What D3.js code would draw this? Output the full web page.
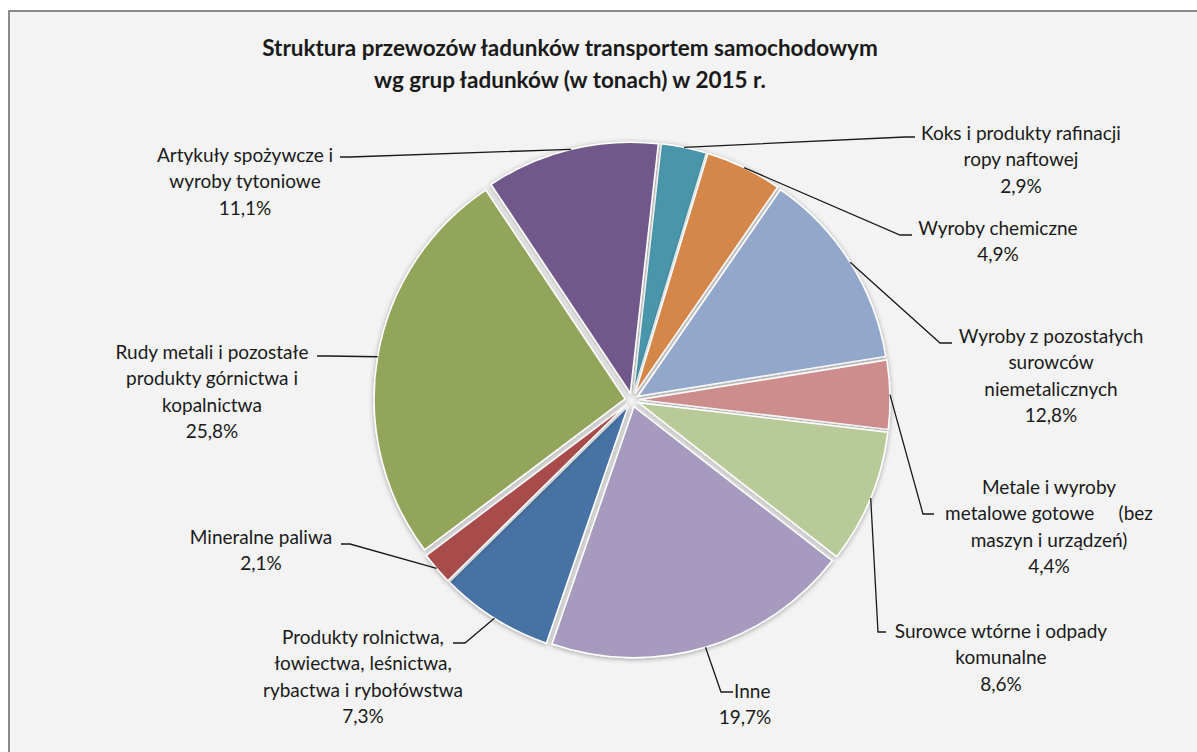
<!DOCTYPE html>
<html>
<head>
<meta charset="utf-8">
<script src="https://cdn.jsdelivr.net/npm/d3@7"></script>
<style>
	body { margin: 0; background: #fff; }
	text { font-family: Lato, "Open Sans", sans-serif; fill: #1a1a1a; }
</style>
</head>
<body>
<svg id="chart" width="1197" height="752"></svg>
<script>

const categories = [
	"Koks i produkty rafinacji ropy naftowej",
	"Wyroby chemiczne",
	"Wyroby z pozostałych surowców niemetalicznych",
	"Metale i wyroby metalowe gotowe (bez maszyn i urządzeń)",
	"Surowce wtórne i odpady komunalne",
	"Inne",
	"Produkty rolnictwa, łowiectwa, leśnictwa, rybactwa i rybołówstwa",
	"Mineralne paliwa",
	"Rudy metali i pozostałe produkty górnictwa i kopalnictwa",
	"Artykuły spożywcze i wyroby tytoniowe"
];

const values = [2.9, 4.9, 12.8, 4.4, 8.6, 19.7, 7.3, 2.1, 25.8, 11.1];

// label text as it is wrapped in the picture
const labelLines = [
	["Koks i produkty rafinacji", "ropy naftowej"],
	["Wyroby chemiczne"],
	["Wyroby z pozostałych", "surowców", "niemetalicznych"],
	["Metale i wyroby", "metalowe gotowe\u00a0\u00a0\u00a0\u00a0 (bez", "maszyn i urządzeń)"],
	["Surowce wtórne i odpady", "komunalne"],
	["\u00a0\u00a0\u00a0Inne"],
	["Produkty rolnictwa,", "łowiectwa, leśnictwa,", "rybactwa i rybołówstwa"],
	["Mineralne paliwa"],
	["Rudy metali i pozostałe", "produkty górnictwa i", "kopalnictwa"],
	["Artykuły spożywcze i", "wyroby tytoniowe"]
];

const colors = ["#4a96aa", "#d5864a", "#93a7ca", "#cd8d8c", "#b8ca97",
	"#a69bbe", "#4672a4", "#a84b4b", "#93a55a", "#71598a"];

const titleLines = [
	"Struktura przewozów ładunków transportem samochodowym",
	"wg grup ładunków (w tonach) w 2015 r."
];

// label placement: text centre x, first line y, leader elbow and end
const labelLayout = [
	{x: 1021, y: 133, elbow: [905, 137], end: [915, 137]},
	{x: 998, y: 228, elbow: [900, 235], end: [912, 235]},
	{x: 1051, y: 336, elbow: [940, 343], end: [952, 343]},
	{x: 1049, y: 487, elbow: [923, 514], end: [934, 514]},
	{x: 1001, y: 631, elbow: [878, 632], end: [886, 632]},
	{x: 745, y: 691, elbow: [721, 692], end: [733, 692]},
	{x: 363, y: 637, elbow: [465, 643], end: [453, 643]},
	{x: 261, y: 537, elbow: [350, 544], end: [341, 544]},
	{x: 212, y: 352, elbow: [328, 356], end: [317, 356]},
	{x: 245, y: 155, elbow: [350, 157], end: [340, 157]}
];

const cx = 632, cy = 400;
const radius = 251;
const explode = 7;
const lineHeight = 26.5;
const startAngle = 6.4 * Math.PI / 180;

const svg = d3.select("#chart");

const defs = svg.append("defs");
const shadow = defs.append("filter")
	.attr("id", "shadow")
	.attr("x", "-20%").attr("y", "-20%")
	.attr("width", "140%").attr("height", "140%");
shadow.append("feDropShadow")
	.attr("dx", 0)
	.attr("dy", 1)
	.attr("stdDeviation", 2.5)
	.attr("flood-color", "#000")
	.attr("flood-opacity", 0.35);

// chart area with its grey frame
svg.append("rect")
	.attr("x", 9)
	.attr("y", 11)
	.attr("width", 1197)
	.attr("height", 752)
	.attr("fill", "#f2f3f2")
	.attr("stroke", "#8a8a8a")
	.attr("stroke-width", 2);

svg.append("text")
	.attr("text-anchor", "middle")
	.attr("font-weight", "bold")
	.attr("font-size", 22.5)
	.selectAll("tspan")
	.data(titleLines)
	.join("tspan")
	.attr("x", 570)
	.attr("y", (d, i) => 48 + i * 32)
	.attr("dy", "0.35em")
	.text(d => d);

const pie = d3.pie()
	.sort(null)
	.value(d => d)
	.startAngle(startAngle)
	.endAngle(startAngle + 2 * Math.PI);

const arcs = pie(values);

const arc = d3.arc()
	.innerRadius(0)
	.outerRadius(radius);

const offset = d => {
	const a = (d.startAngle + d.endAngle) / 2;
	return [Math.sin(a) * explode, -Math.cos(a) * explode];
};

const g = svg.append("g")
	.attr("transform", `translate(${cx},${cy})`);

g.selectAll("path.slice")
	.data(arcs)
	.join("path")
	.attr("class", "slice")
	.attr("transform", d => `translate(${offset(d)})`)
	.attr("d", arc)
	.attr("fill", (d, i) => colors[i])
	.attr("stroke", "#fff")
	.attr("stroke-width", 1.5)
	.attr("filter", "url(#shadow)");

// leader lines start on the outer edge of each slice, at its middle
const anchor = d => {
	const a = (d.startAngle + d.endAngle) / 2;
	const r = radius + explode;
	return [cx + Math.sin(a) * r, cy - Math.cos(a) * r];
};

svg.append("g")
	.selectAll("path")
	.data(arcs)
	.join("path")
	.attr("d", (d, i) => d3.line()([anchor(d), labelLayout[i].elbow, labelLayout[i].end]))
	.attr("fill", "none")
	.attr("stroke", "#1a1a1a")
	.attr("stroke-width", 1.3);

const pct = v => v.toFixed(1).replace(".", ",") + "%";

svg.append("g")
	.selectAll("text")
	.data(arcs)
	.join("text")
	.attr("text-anchor", "middle")
	.attr("font-size", 19)
	.each(function (d, i) {
		const lines = [...labelLines[i], pct(values[i])];
		d3.select(this).selectAll("tspan")
			.data(lines)
			.join("tspan")
			.attr("x", labelLayout[i].x)
			.attr("y", (t, j) => labelLayout[i].y + j * lineHeight)
			.attr("dy", "0.35em")
			.text(t => t);
	});

</script>
</body>
</html>
